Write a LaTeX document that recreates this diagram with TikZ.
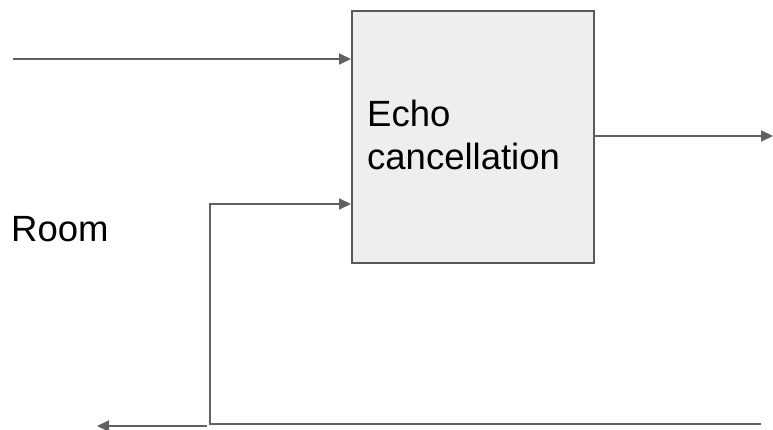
\documentclass[tikz,border=0pt]{standalone}
\usepackage{fontspec}
\setmainfont{Liberation Sans}
\usetikzlibrary{arrows.meta}
\definecolor{linec}{HTML}{616161}
\definecolor{boxfill}{HTML}{EEEEEE}
\definecolor{boxline}{HTML}{595959}
\tikzset{
  conn/.style={draw=linec, line width=2pt, -{Triangle[length=12pt,width=11pt]}},
  blockbox/.style={draw=boxline, fill=boxfill, line width=2pt, minimum width=242pt, minimum height=252pt, inner sep=0pt, anchor=north west},
  lbl/.style={font=\fontsize{36.5pt}{43pt}\selectfont, inner sep=0pt, align=left, text=black}
}
\begin{document}
\begin{tikzpicture}[x=1pt,y=-1pt]
\useasboundingbox (0,0) rectangle (773,430);
\node[blockbox] (box) at (351,10) {};
\node[lbl, anchor=base west] (echo) at (367,127) {Echo};
\node[lbl, anchor=base west] (canc) at (367,170) {cancellation};
\node[lbl, anchor=base west] (room) at (11,241) {Room};
\coordinate (inA) at (13,59);
\coordinate (outB) at (773,136);
\coordinate (fbStart) at (761,424);
\coordinate (fbCorner) at (210,424);
\coordinate (fbTop) at (210,204);
\coordinate (roomStart) at (207,426);
\coordinate (roomEnd) at (97,426);
\draw[conn] (inA) -- (inA -| box.west);
\draw[conn] (outB -| box.east) -- (outB);
\draw[conn, line join=miter] (fbStart) -- (fbCorner) -- (fbTop) -- (fbTop -| box.west);
\draw[conn] (roomStart) -- (roomEnd);
\end{tikzpicture}
\end{document}
